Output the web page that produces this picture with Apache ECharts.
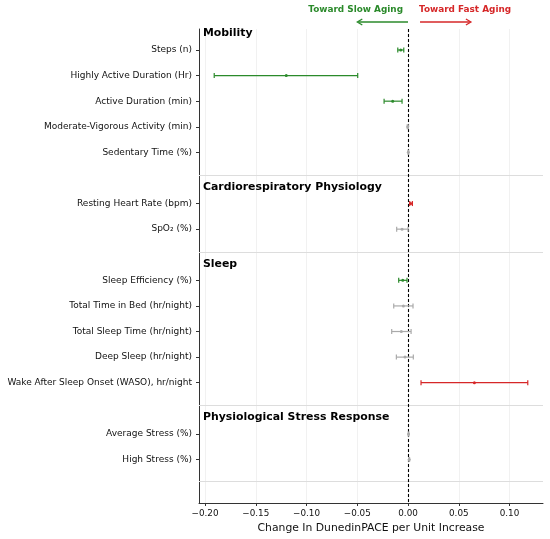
<!DOCTYPE html>
<html>
<head>
<meta charset="utf-8">
<script src="https://cdn.jsdelivr.net/npm/echarts@6/dist/echarts.min.js"></script>
<style>
html,body{margin:0;padding:0;background:#fff;}
#chart{width:550px;height:539px;}
</style>
</head>
<body>
<div id="chart"></div>
<script>
// ---- data ----
const labels = [
  'Steps (n)', 'Highly Active Duration (Hr)', 'Active Duration (min)',
  'Moderate-Vigorous Activity (min)', 'Sedentary Time (%)',
  'Resting Heart Rate (bpm)', 'SpO\u2082 (%)',
  'Sleep Efficiency (%)', 'Total Time in Bed (hr/night)', 'Total Sleep Time (hr/night)',
  'Deep Sleep (hr/night)', 'Wake After Sleep Onset (WASO), hr/night',
  'Average Stress (%)', 'High Stress (%)'
];
const rows = [0, 1, 2, 3, 4, 6, 7, 9, 10, 11, 12, 13, 15, 16];
const estimate = [-0.0072, -0.120, -0.0151, -0.0003, 0.0003, 0.0026, -0.0059, -0.0052, -0.0046, -0.0066, -0.0030, 0.0654, 0.0005, 0.0012];
const lower    = [-0.0101, -0.191, -0.0236, -0.0008, 0.0000, 0.0017, -0.0112, -0.0092, -0.0141, -0.0161, -0.0115, 0.0128, 0.0002, 0.0009];
const upper    = [-0.0042, -0.0496, -0.0059, 0.0002, 0.0006, 0.0043, 0.0000, -0.0010, 0.0049, 0.0030, 0.0052, 0.1180, 0.0008, 0.0015];
const direction = ['slow', 'slow', 'slow', 'ns', 'ns', 'fast', 'ns', 'slow', 'ns', 'ns', 'ns', 'fast', 'ns', 'ns'];
const sections = ['Mobility', 'Cardiorespiratory Physiology', 'Sleep', 'Physiological Stress Response'];
const sectionRows = [-1, 5, 8, 14];
const separatorRows = [4.9, 7.9, 13.9, 16.85];
const xTicks = [-0.20, -0.15, -0.10, -0.05, 0.00, 0.05, 0.10];

// ---- style ----
const GREEN = '#2b8a2b';
const RED = '#d62728';
const GRAY = '#aaaaaa';
const colorOf = { slow: GREEN, fast: RED, ns: GRAY };
const FONT = 'DejaVu Sans';
const X_MIN = -0.206, X_MAX = 0.133, Y_MIN = -0.82, Y_MAX = 17.7;

const labelByRow = {};
rows.forEach((r, i) => { labelByRow[r] = labels[i]; });

const barData = rows.map((r, i) => ({
  value: [r, estimate[i], lower[i], upper[i]],
  itemStyle: { color: colorOf[direction[i]] }
}));
const headData = sectionRows.map((r, i) => ({ value: [r], name: sections[i] }));

function fmtTick(v) {
  const s = Math.abs(v).toFixed(2);
  return (v < -1e-9 ? '\u2212' : '') + s;
}

const chart = echarts.init(document.getElementById('chart'), null, { renderer: 'canvas' });
chart.setOption({
  animation: false,
  backgroundColor: '#ffffff',
  textStyle: { fontFamily: FONT },
  grid: { left: 199, right: 7, top: 29, bottom: 36, containLabel: false },
  xAxis: {
    type: 'value', min: X_MIN, max: X_MAX,
    name: 'Change In DunedinPACE per Unit Increase',
    nameLocation: 'middle', nameGap: 19,
    nameTextStyle: { fontFamily: FONT, fontSize: 10.8, color: '#111' },
    axisLine: { show: true, onZero: false, lineStyle: { color: '#333', width: 1 } },
    axisTick: { show: true, length: 3, customValues: xTicks, lineStyle: { color: '#333' } },
    axisLabel: { customValues: xTicks, formatter: fmtTick, fontFamily: FONT, fontSize: 8.8, color: '#111', margin: 6 },
    splitLine: { show: false }
  },
  yAxis: {
    type: 'value', min: Y_MIN, max: Y_MAX, inverse: true,
    axisLine: { show: true, onZero: false, lineStyle: { color: '#333', width: 1 } },
    axisTick: { show: true, length: 3, customValues: rows, lineStyle: { color: '#333' } },
    axisLabel: {
      customValues: rows,
      formatter: v => labelByRow[Math.round(v)] || '',
      fontFamily: FONT, fontSize: 9, color: '#111', margin: 7
    },
    splitLine: { show: false }
  },
  series: [
    {
      type: 'custom', name: 'grid', data: [],
      renderItem: () => null,
      markLine: {
        silent: true, symbol: 'none', label: { show: false }, animation: false,
        data: xTicks.map(t => ({ xAxis: t, lineStyle: { color: '#eeeeee', width: 0.8, type: 'solid' } }))
          .concat(separatorRows.map(r => ({ yAxis: r, lineStyle: { color: '#dddddd', width: 1, type: 'solid' } })))
      }
    },
    {
      type: 'custom', name: 'zero', data: [],
      renderItem: () => null,
      z: 3,
      markLine: {
        silent: true, symbol: 'none', label: { show: false }, animation: false,
        data: [{ xAxis: 0, lineStyle: { color: '#000', width: 1.1, type: [3, 2] } }]
      }
    },
    {
      type: 'custom', name: 'effects', data: barData, z: 5,
      encode: { x: [1, 2, 3], y: 0 },
      renderItem: function (params, api) {
        const r = api.value(0);
        const pE = api.coord([api.value(1), r]);
        const pL = api.coord([api.value(2), r]);
        const pH = api.coord([api.value(3), r]);
        const c = api.visual('color');
        const st = { stroke: c, lineWidth: 1.2 };
        return {
          type: 'group',
          children: [
            { type: 'line', shape: { x1: pL[0], y1: pL[1], x2: pH[0], y2: pH[1] }, style: st },
            { type: 'line', shape: { x1: pL[0], y1: pL[1] - 2.5, x2: pL[0], y2: pL[1] + 2.5 }, style: st },
            { type: 'line', shape: { x1: pH[0], y1: pH[1] - 2.5, x2: pH[0], y2: pH[1] + 2.5 }, style: st },
            { type: 'circle', shape: { cx: pE[0], cy: pE[1], r: 1.5 }, style: { fill: c } }
          ]
        };
      }
    },
    {
      type: 'custom', name: 'headings', data: headData, z: 6,
      renderItem: function (params, api) {
        const p = api.coord([X_MIN, api.value(0) + 0.35]);
        return {
          type: 'text', x: p[0] + 4, y: p[1],
          style: {
            text: sections[params.dataIndex], fill: '#000',
            font: 'bold 10.9px "' + FONT + '"',
            textAlign: 'left', textVerticalAlign: 'middle'
          }
        };
      }
    }
  ]
});

// top annotations anchored to the zero line
const p0 = chart.convertToPixel({ gridIndex: 0 }, [0, Y_MIN]);
const pSlow = chart.convertToPixel({ gridIndex: 0 }, [-0.05, Y_MIN]);
const pFast = chart.convertToPixel({ gridIndex: 0 }, [0.06, Y_MIN]);
const x0 = p0[0];
const arrowY = 22, textY = 10;
function arrow(xFrom, xTo, color) {
  const dir = xTo > xFrom ? 1 : -1;
  return [
    { type: 'line', shape: { x1: xFrom, y1: arrowY, x2: xTo - dir * 1, y2: arrowY }, style: { stroke: color, lineWidth: 1.3 } },
    { type: 'polyline', shape: { points: [[xTo - dir * 5, arrowY - 3], [xTo, arrowY], [xTo - dir * 5, arrowY + 3]] }, style: { stroke: color, lineWidth: 1.3, fill: null } }
  ];
}
chart.setOption({
  graphic: [
    { type: 'text', x: x0 - 5, y: textY, style: { text: 'Toward Slow Aging', fill: GREEN, font: 'bold 8.9px "' + FONT + '"', textAlign: 'right', textVerticalAlign: 'middle' } },
    { type: 'text', x: x0 + 11, y: textY, style: { text: 'Toward Fast Aging', fill: RED, font: 'bold 8.9px "' + FONT + '"', textAlign: 'left', textVerticalAlign: 'middle' } }
  ].concat(arrow(x0, pSlow[0], GREEN)).concat(arrow(x0 + 12, pFast[0] + 2, RED))
});
</script>
</body>
</html>
